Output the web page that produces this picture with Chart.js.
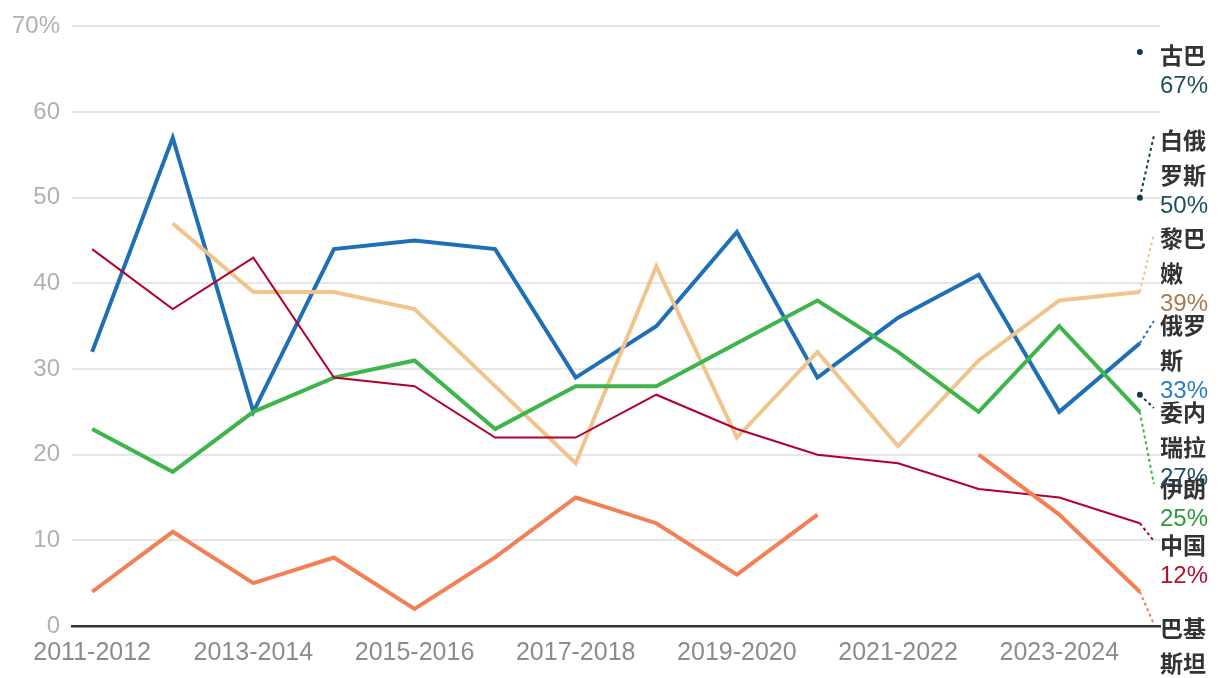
<!DOCTYPE html>
<html>
<head>
<meta charset="utf-8">
<script src="https://cdn.jsdelivr.net/npm/chart.js@4.4.1/dist/chart.umd.min.js"></script>
<style>
  body { margin: 0; background: #fff; }
  #wrap { width: 1220px; height: 678px; position: relative; }
</style>
</head>
<body>
<div id="wrap"><canvas id="chart"></canvas></div>
<script>
// categories (school years)
const years = ['2011-2012', '2012-2013', '2013-2014', '2014-2015', '2015-2016', '2016-2017', '2017-2018',
  '2018-2019', '2019-2020', '2020-2021', '2021-2022', '2022-2023', '2023-2024', '2024-2025'];

// series values, in %
const russia    = [32, 57, 25, 44, 45, 44, 29, 35, 46, 29, 36, 41, 25, 33];
const lebanon   = [null, 47, 39, 39, 37, 28, 19, 42, 22, 32, 21, 31, 38, 39];
const iran      = [23, 18, 25, 29, 31, 23, 28, 28, 33, 38, 32, 25, 35, 25];
const china     = [44, 37, 43, 29, 28, 22, 22, 27, 23, 20, 19, 16, 15, 12];
const pakistan  = [4, 11, 5, 8, 2, 8, 15, 12, 6, 13, null, 20, 13, 4];
const cuba      = [null, null, null, null, null, null, null, null, null, null, null, null, null, 67];
const belarus   = [null, null, null, null, null, null, null, null, null, null, null, null, null, 50];
const venezuela = [null, null, null, null, null, null, null, null, null, null, null, null, null, 27];

// y axis ticks
const yTicks = [0, 10, 20, 30, 40, 50, 60, 70];

const FONT = '"Liberation Sans", "DejaVu Sans", sans-serif';
const CJK = '"Noto Sans CJK SC", sans-serif';

function pts(arr) {
  return arr.map((v, i) => ({ x: i, y: v }));
}

// series definition: name, data, line colour, value colour, width, label line-1 centre (px)
const series = [
  { name: '巴基斯坦', data: pakistan, color: '#f47f55', valColor: '#e0663c', width: 4, labelY: 628 },
  { name: '中国', data: china, color: '#b3002d', valColor: '#b3102f', width: 2, labelY: 545 },
  { name: '伊朗', data: iran, color: '#3db54a', valColor: '#2a9a3a', width: 4, labelY: 488 },
  { name: '委内瑞拉', data: venezuela, color: '#0e3d4f', valColor: '#1d4f63', width: 2, labelY: 412 },
  { name: '黎巴嫩', data: lebanon, color: '#f0c48c', valColor: '#a47c4c', width: 4, labelY: 238 },
  { name: '俄罗斯', data: russia, color: '#1f6fb6', valColor: '#2b7bc8', width: 4, labelY: 325 },
  { name: '白俄罗斯', data: belarus, color: '#0e3d4f', valColor: '#1d4f63', width: 2, labelY: 140 },
  { name: '古巴', data: cuba, color: '#0e3d4f', valColor: '#1d4f63', width: 2, labelY: 55 }
];

// draws the right-hand labels with dotted leader lines
const endLabels = {
  id: 'endLabels',
  afterDatasetsDraw(chart) {
    const ctx = chart.ctx;
    const area = chart.chartArea;
    chart.data.datasets.forEach((ds, di) => {
      const s = series[di];
      const meta = chart.getDatasetMeta(di);
      const last = meta.data[meta.data.length - 1];
      const lastVal = s.data[s.data.length - 1];
      const tx = area.right;
      // name split into lines of two characters
      const lines = [];
      for (let i = 0; i < s.name.length; i += 2) lines.push(s.name.slice(i, i + 2));

      ctx.save();
      // leader
      const ey = s.labelY - 4;
      if (Math.abs(ey - last.y) > 8) {
        ctx.strokeStyle = s.color;
        ctx.lineWidth = 2;
        ctx.setLineDash([3, 3]);
        ctx.beginPath();
        ctx.moveTo(last.x, last.y);
        ctx.lineTo(last.x + 14, ey);
        ctx.stroke();
        ctx.setLineDash([]);
      }
      ctx.textAlign = 'left';
      ctx.textBaseline = 'middle';
      ctx.font = 'bold 23px ' + CJK;
      ctx.fillStyle = '#333';
      lines.forEach((l, i) => ctx.fillText(l, tx, s.labelY + i * 35));
      ctx.font = '24px ' + FONT;
      ctx.fillStyle = s.valColor;
      ctx.fillText(lastVal + '%', tx, s.labelY + (lines.length - 1) * 35 + 31);
      ctx.restore();
    });
  }
};

const datasets = series.map(s => ({
  label: s.name,
  data: pts(s.data),
  borderColor: s.color,
  backgroundColor: s.color,
  borderWidth: s.width,
  pointRadius: s.data.filter(v => v !== null).length === 1 ? 2 : 0,
  pointHoverRadius: 0,
  spanGaps: false,
  tension: 0,
  fill: false
}));

new Chart(document.getElementById('chart'), {
  type: 'line',
  data: { datasets: datasets },
  plugins: [endLabels],
  options: {
    responsive: true,
    maintainAspectRatio: false,
    animation: false,
    devicePixelRatio: 1,
    layout: { padding: { top: 26, right: 60, left: 0, bottom: 0 } },
    plugins: {
      legend: { display: false },
      tooltip: { enabled: false }
    },
    scales: {
      x: {
        type: 'linear',
        min: -0.25,
        max: years.length - 0.75,
        afterBuildTicks: axis => {
          axis.ticks = years.map((y, i) => ({ value: i })).filter(t => t.value % 2 === 0);
        },
        afterFit: axis => { axis.height = 52; },
        grid: { display: false, drawTicks: false },
        border: { display: true, color: '#333', width: 2.5 },
        ticks: {
          autoSkip: false,
          maxRotation: 0,
          padding: 12,
          color: '#8c8c8c',
          font: { family: FONT, size: 25 },
          callback: v => years[v]
        }
      },
      y: {
        min: 0,
        max: 70,
        afterBuildTicks: axis => {
          axis.ticks = yTicks.map(v => ({ value: v }));
        },
        afterFit: axis => { axis.width = 72; },
        grid: { color: '#e6e6e6', lineWidth: 2, drawTicks: false },
        border: { display: false },
        ticks: {
          padding: 12,
          color: '#b0b0b0',
          font: { family: FONT, size: 24 },
          callback: v => v === 70 ? '70%' : v
        }
      }
    }
  }
});
</script>
</body>
</html>
